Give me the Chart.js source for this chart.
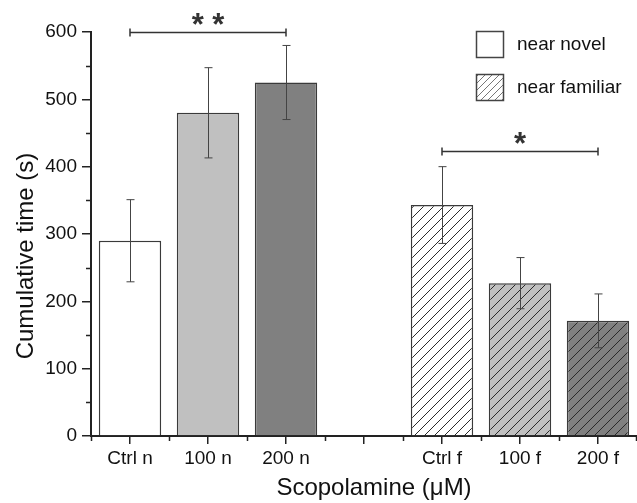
<!DOCTYPE html>
<html>
<head>
<meta charset="utf-8">
<script src="https://cdn.jsdelivr.net/npm/chart.js@4.4.1/dist/chart.umd.min.js"></script>
<style>
  html, body { margin: 0; padding: 0; background: #fff; }
  canvas { display: block; }
</style>
</head>
<body>
<canvas id="timeChart" width="637" height="503"></canvas>
<script>
// cumulative time spent near each object, mean and s.e.m.
const categories = ['Ctrl n', '100 n', '200 n', '', 'Ctrl f', '100 f', '200 f'];
const meanTime = [290, 480, 525, null, 343, 227, 171];
const semTime = [61, 67, 55, null, 57, 38, 40];
const yTickValues = [0, 100, 200, 300, 400, 500, 600];
const legendLabels = ['near novel', 'near familiar'];
const sigGroups = [
  { from: 0, to: 2, y: 600, mark: '* *' },
  { from: 4, to: 6, y: 423, mark: '*' }
];

const fillShades = ['#ffffff', '#c0c0c0', '#808080', '#ffffff', '#ffffff', '#c0c0c0', '#808080'];
const hatched = [false, false, false, false, true, true, true];

const FONT = '"Liberation Sans", Arial, sans-serif';
const INK = '#222';

function hatch(color, step, lineColor, lineWidth) {
  const c = document.createElement('canvas');
  c.width = step;
  c.height = step;
  const g = c.getContext('2d');
  g.fillStyle = color;
  g.fillRect(0, 0, step, step);
  g.strokeStyle = lineColor;
  g.lineWidth = lineWidth;
  g.beginPath();
  for (let k = -1; k <= 1; k++) {
    g.moveTo(k * step, step);
    g.lineTo(k * step + step, 0);
  }
  g.stroke();
  return g.createPattern(c, 'repeat');
}

const barFills = fillShades.map((c, i) => hatched[i] ? hatch(c, 10, '#2a2a2a', 1) : c);

const extras = {
  id: 'extras',
  afterDatasetsDraw(chart) {
    const { ctx } = chart;
    const x = chart.scales.x;
    const y = chart.scales.y;
    // error bars
    ctx.save();
    ctx.strokeStyle = '#444';
    ctx.lineWidth = 1;
    meanTime.forEach((m, i) => {
      if (m === null) return;
      const px = Math.round(x.getPixelForValue(i)) + 0.5;
      const hi = y.getPixelForValue(m + semTime[i]);
      const lo = y.getPixelForValue(m - semTime[i]);
      ctx.beginPath();
      ctx.moveTo(px, hi); ctx.lineTo(px, lo);
      ctx.moveTo(px - 4, hi); ctx.lineTo(px + 4, hi);
      ctx.moveTo(px - 4, lo); ctx.lineTo(px + 4, lo);
      ctx.stroke();
    });
    ctx.restore();
  },
  afterDraw(chart) {
    const { ctx, chartArea } = chart;
    const x = chart.scales.x;
    const y = chart.scales.y;
    ctx.save();

    // minor ticks
    ctx.strokeStyle = INK;
    ctx.lineWidth = 1.5;
    ctx.beginPath();
    for (let i = 0; i < yTickValues.length - 1; i++) {
      const py = Math.round(y.getPixelForValue((yTickValues[i] + yTickValues[i + 1]) / 2)) + 0.5;
      ctx.moveTo(chartArea.left - 5, py);
      ctx.lineTo(chartArea.left, py);
    }
    const step = (chartArea.right - chartArea.left) / categories.length;
    for (let k = 0; k <= categories.length; k++) {
      const px = Math.min(Math.round(chartArea.left + k * step), chart.width - 1) + 0.5;
      ctx.moveTo(px, chartArea.bottom);
      ctx.lineTo(px, chartArea.bottom + 5);
    }
    ctx.stroke();

    // significance brackets
    ctx.strokeStyle = '#333';
    ctx.fillStyle = '#333';
    ctx.lineWidth = 1.5;
    ctx.font = 'bold 31px ' + FONT;
    ctx.textAlign = 'center';
    ctx.textBaseline = 'alphabetic';
    sigGroups.forEach(s => {
      const x0 = x.getPixelForValue(s.from);
      const x1 = x.getPixelForValue(s.to);
      const py = Math.round(y.getPixelForValue(s.y)) + 0.5;
      ctx.beginPath();
      ctx.moveTo(x0, py); ctx.lineTo(x1, py);
      ctx.moveTo(x0, py - 4); ctx.lineTo(x0, py + 4);
      ctx.moveTo(x1, py - 4); ctx.lineTo(x1, py + 4);
      ctx.stroke();
      ctx.fillText(s.mark, (x0 + x1) / 2, py + 2);
    });

    // legend
    ctx.lineWidth = 1.5;
    ctx.strokeStyle = '#444';
    ctx.font = '19px ' + FONT;
    ctx.textAlign = 'left';
    ctx.fillStyle = '#111';
    const legendFills = ['#ffffff', hatch('#ffffff', 7, '#777', 1)];
    legendLabels.forEach((t, i) => {
      const top = 31 + i * 43;
      ctx.fillStyle = legendFills[i];
      ctx.fillRect(476, top, 28, 27);
      ctx.strokeRect(476.5, top + 0.5, 27, 26);
      ctx.fillStyle = '#111';
      ctx.fillText(t, 517, top + 19);
    });

    // axis titles
    ctx.font = '24px ' + FONT;
    ctx.textAlign = 'center';
    ctx.fillText('Scopolamine (\u03BCM)', 374, 495);
    ctx.translate(33, 256);
    ctx.rotate(-Math.PI / 2);
    ctx.fillText('Cumulative time (s)', 0, 0);
    ctx.restore();
  }
};

new Chart(document.getElementById('timeChart'), {
  type: 'bar',
  data: {
    labels: categories,
    datasets: [{
      data: meanTime,
      backgroundColor: barFills,
      borderColor: '#3a3a3a',
      borderWidth: 1.5,
      barPercentage: 0.8,
      categoryPercentage: 1
    }]
  },
  options: {
    responsive: false,
    animation: false,
    devicePixelRatio: 1,
    layout: { padding: { top: 32, right: 0, left: 0, bottom: 0 } },
    plugins: { legend: { display: false }, tooltip: { enabled: false } },
    scales: {
      x: {
        offset: true,
        grid: { display: true, drawOnChartArea: false, offset: false, tickLength: 8, color: INK, lineWidth: 1.5 },
        border: { display: true, color: INK, width: 2 },
        ticks: { font: { family: FONT, size: 19 }, color: '#111', padding: 3, maxRotation: 0, autoSkip: false },
        afterFit(scale) { scale.height = 67; }
      },
      y: {
        min: 0,
        max: 600,
        afterBuildTicks(scale) { scale.ticks = yTickValues.map(v => ({ value: v })); },
        grid: { display: true, drawOnChartArea: false, tickLength: 9, color: INK, lineWidth: 1.5 },
        border: { display: true, color: INK, width: 2 },
        ticks: { font: { family: FONT, size: 19 }, color: '#111', padding: 5 },
        afterFit(scale) { scale.width = 91; }
      }
    }
  },
  plugins: [extras]
});
</script>
</body>
</html>
